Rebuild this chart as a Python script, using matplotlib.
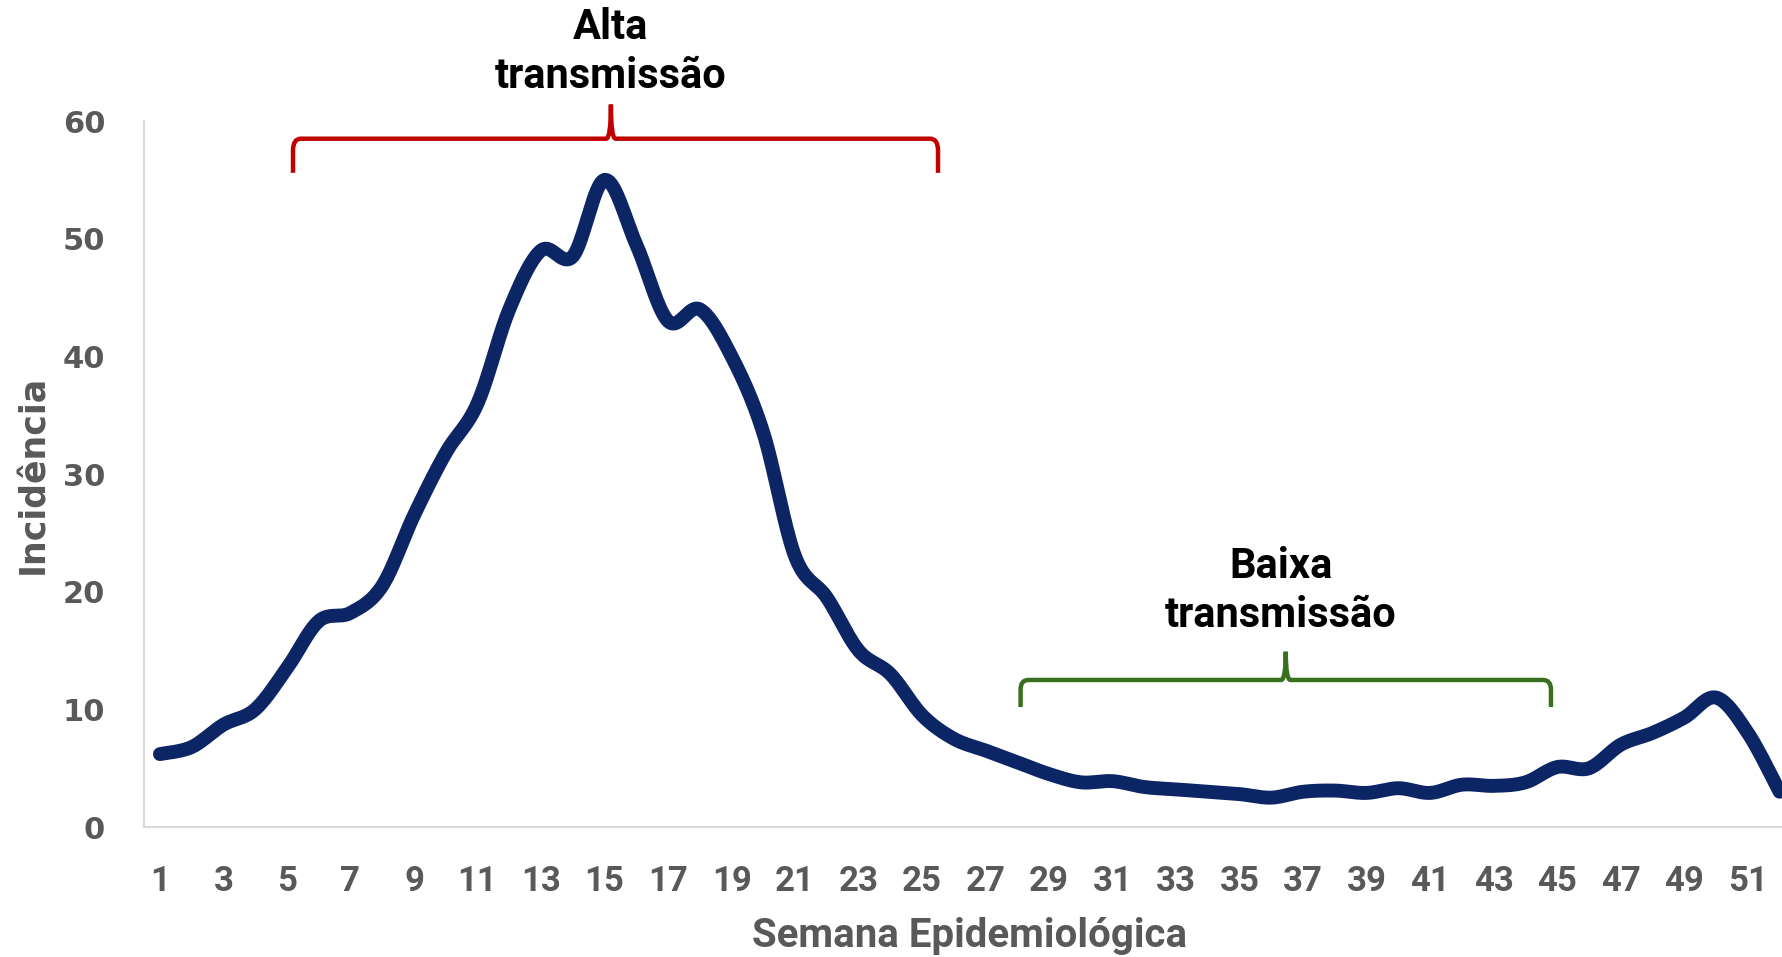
import numpy as np
import matplotlib
matplotlib.use('Agg')
import matplotlib.pyplot as plt
from matplotlib.path import Path
from matplotlib.patches import PathPatch

# incidência por semana epidemiológica
semanas = list(range(1, 53))
incidencia = [6.2, 6.8, 8.7, 10.0, 13.5, 17.5, 18.2, 20.5, 26.5, 31.8,
              36.0, 44.0, 49.0, 48.5, 55.0, 49.5, 43.0, 44.0, 40.0, 33.5,
              23.0, 19.5, 15.0, 13.0, 9.5, 7.5, 6.5, 5.5, 4.5, 3.8,
              3.9, 3.4, 3.2, 3.0, 2.8, 2.5, 3.0, 3.1, 2.9, 3.3,
              2.9, 3.6, 3.5, 3.8, 5.1, 5.0, 7.0, 8.0, 9.3, 11.0,
              8.0, 3.0]
rotulos_x = [str(s) for s in semanas[::2]]
ticks_y = [0, 10, 20, 30, 40, 50, 60]

cor_linha = '#0b2565'
cor_texto = '#595959'
cor_alta = '#c00000'
cor_baixa = '#38701f'


def suavizar(x, y, n=20):
    # curva suavizada tipo Excel (Catmull-Rom)
    x = np.asarray(x, float)
    y = np.asarray(y, float)
    px = np.concatenate([[x[0]], x, [x[-1]]])
    py = np.concatenate([[y[0]], y, [y[-1]]])
    xs, ys = [], []
    for i in range(1, len(px) - 2):
        t = np.linspace(0, 1, n, endpoint=False)
        p0x, p1x, p2x, p3x = px[i - 1], px[i], px[i + 1], px[i + 2]
        p0y, p1y, p2y, p3y = py[i - 1], py[i], py[i + 1], py[i + 2]
        c1x, c1y = p1x + (p2x - p0x) / 6, p1y + (p2y - p0y) / 6
        c2x, c2y = p2x - (p3x - p1x) / 6, p2y - (p3y - p1y) / 6
        b = [(1 - t) ** 3, 3 * (1 - t) ** 2 * t, 3 * (1 - t) * t ** 2, t ** 3]
        xs.append(b[0] * p1x + b[1] * c1x + b[2] * c2x + b[3] * p2x)
        ys.append(b[0] * p1y + b[1] * c1y + b[2] * c2y + b[3] * p2y)
    xs.append([x[-1]])
    ys.append([y[-1]])
    return np.concatenate(xs), np.concatenate(ys)


def chave(ax, x0, x1, xm, y, ybaixo, ytopo, cor, rx=0.25, ry=1.0, sx=0.15):
    verts = [(x0, ybaixo), (x0, y - ry), (x0, y), (x0 + rx, y),
             (xm - sx, y), (xm, y), (xm, ytopo),
             (xm, y), (xm + sx, y),
             (x1 - rx, y), (x1, y), (x1, y - ry), (x1, ybaixo)]
    codes = [Path.MOVETO, Path.LINETO, Path.CURVE3, Path.CURVE3,
             Path.LINETO, Path.CURVE3, Path.CURVE3,
             Path.CURVE3, Path.CURVE3,
             Path.LINETO, Path.CURVE3, Path.CURVE3, Path.LINETO]
    patch = PathPatch(Path(verts, codes), facecolor='none', edgecolor=cor,
                      lw=3.2, clip_on=False, capstyle='butt')
    ax.add_patch(patch)


fig = plt.figure(figsize=(17.83, 9.57), dpi=100)
ax = fig.add_axes([0.0808, 0.1358, 0.9262, 0.7377])

xs, ys = suavizar(semanas, incidencia)
ax.plot(xs, ys, color=cor_linha, lw=10, solid_capstyle='round', clip_on=False)

ax.set_xlim(0.5, 52.5)
ax.set_ylim(0, 60)
ax.set_xticks(semanas[::2])
ax.set_xticklabels(rotulos_x)
ax.set_yticks(ticks_y)
ax.tick_params(length=0)
ax.tick_params(axis='x', pad=27)
ax.tick_params(axis='y', pad=28)
for lab in ax.get_xticklabels():
    lab.set_fontfamily('Roboto')
    lab.set_fontweight('bold')
    lab.set_fontsize(25)
    lab.set_color(cor_texto)
for lab in ax.get_yticklabels():
    lab.set_fontfamily('DejaVu Sans')
    lab.set_fontweight('bold')
    lab.set_fontsize(22)
    lab.set_color(cor_texto)

for s in ['top', 'right']:
    ax.spines[s].set_visible(False)
for s in ['left', 'bottom']:
    ax.spines[s].set_color('#d9d9d9')
    ax.spines[s].set_linewidth(1.5)

ax.set_xlabel('Semana Epidemiológica', fontsize=29, fontweight='bold',
              family='Roboto', color=cor_texto, labelpad=14)
ax.set_ylabel('Incidência', fontsize=25, fontweight='bold',
              family='DejaVu Sans', color=cor_texto, labelpad=9)

# chaves de transmissão
chave(ax, 5.19, 25.5, 15.2, 58.5, 55.6, 61.4, cor_alta)
ax.text(15.2, 65.9, 'Alta\ntransmissão', ha='center', va='center',
        fontsize=30, fontweight='bold', family='Roboto', color='black',
        linespacing=1.25)

chave(ax, 28.1, 44.8, 36.45, 12.5, 10.2, 14.9, cor_baixa, ry=0.8)
ax.text(36.3, 20.1, 'Baixa\ntransmissão', ha='center', va='center',
        fontsize=30, fontweight='bold', family='Roboto', color='black',
        linespacing=1.25)

plt.savefig('out.png', dpi=100)
